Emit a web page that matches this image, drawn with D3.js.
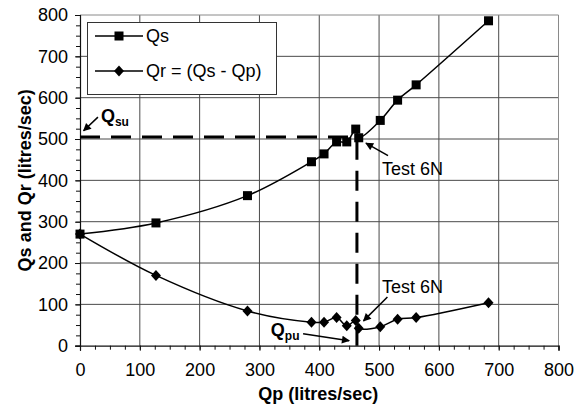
<!DOCTYPE html>
<html>
<head>
<meta charset="utf-8">
<script src="https://cdn.jsdelivr.net/npm/d3@7"></script>
<style>
  html, body { margin: 0; padding: 0; background: #fff; }
  svg { display: block; font-family: "Liberation Sans", Arial, Helvetica, sans-serif; }
</style>
</head>
<body>
<svg id="chart" width="585" height="407"></svg>
<script>
// Pump discharge Qp against supply Qs and return Qr (litres/sec)
const qp = [0, 127, 280, 387, 408, 429, 446, 461, 466, 502, 531, 562, 683];
const qs = [270, 297, 363, 445, 464, 493, 493, 524, 503, 545, 594, 631, 786];
const qr = [270, 170, 84, 57, 57, 68, 48, 61, 42, 46, 64, 68, 104];

const xTicks = [0, 100, 200, 300, 400, 500, 600, 700, 800];
const yTicks = [0, 100, 200, 300, 400, 500, 600, 700, 800];
const minorStep = 25;

// Upper-limit markers: Qsu on the supply axis, Qpu on the pump axis
const qsu = 505;
const qpu = 463;

const seriesNames = ["Qs", "Qr = (Qs - Qp)"];

const W = 585, H = 407;
const plot = { left: 80, right: 558.5, top: 15, bottom: 345.7 };
const fontSize = 18;

const svg = d3.select("#chart");
const x = d3.scaleLinear().domain([0, 800]).range([plot.left, plot.right]);
const y = d3.scaleLinear().domain([0, 800]).range([plot.bottom, plot.top]);

svg.append("rect").attr("width", W).attr("height", H).attr("fill", "#fff");

// Grid
const grid = svg.append("g").attr("stroke", "#4a4a4a").attr("stroke-width", 1);
xTicks.slice(1, -1).forEach(v => {
  grid.append("line").attr("x1", x(v)).attr("x2", x(v))
    .attr("y1", plot.top).attr("y2", plot.bottom);
});
yTicks.slice(1, -1).forEach(v => {
  grid.append("line").attr("y1", y(v)).attr("y2", y(v))
    .attr("x1", plot.left).attr("x2", plot.right);
});
// Frame: top and right edges lighter
svg.append("line").attr("x1", plot.left).attr("x2", plot.right)
  .attr("y1", plot.top).attr("y2", plot.top).attr("stroke", "#8a8a8a");
svg.append("line").attr("x1", plot.right).attr("x2", plot.right)
  .attr("y1", plot.top).attr("y2", plot.bottom).attr("stroke", "#8a8a8a");

// Axes
const minorVals = d3.range(0, 801, minorStep);
const xMinor = svg.append("g").attr("transform", `translate(0,${plot.bottom})`)
  .call(d3.axisBottom(x).tickValues(minorVals).tickSize(4).tickFormat(""));
const yMinor = svg.append("g").attr("transform", `translate(${plot.left},0)`)
  .call(d3.axisLeft(y).tickValues(minorVals).tickSize(4).tickFormat(""));
[xMinor, yMinor].forEach(g => g.select(".domain").remove());

const xAxis = svg.append("g").attr("transform", `translate(0,${plot.bottom})`)
  .call(d3.axisBottom(x).tickValues(xTicks).tickSize(5).tickPadding(13).tickFormat(d3.format("d")));
const yAxis = svg.append("g").attr("transform", `translate(${plot.left},0)`)
  .call(d3.axisLeft(y).tickValues(yTicks).tickSize(5).tickPadding(7).tickFormat(d3.format("d")));
[xAxis, yAxis, xMinor, yMinor].forEach(g => {
  g.selectAll("line").attr("stroke", "#111");
  g.select(".domain").attr("stroke", "#111").attr("stroke-width", 1.2);
  g.selectAll("text").attr("font-size", fontSize).attr("fill", "#000")
    .attr("font-family", "\"Liberation Sans\", Arial, sans-serif");
});

// Axis titles
svg.append("text").attr("x", (plot.left + plot.right) / 2 - 1).attr("y", 400)
  .attr("text-anchor", "middle").attr("font-size", 18).attr("font-weight", "bold")
  .attr("fill", "#000").text("Qp (litres/sec)");
svg.append("text").attr("transform", `translate(31,${(plot.top + plot.bottom) / 2}) rotate(-90)`)
  .attr("text-anchor", "middle").attr("font-size", 18).attr("font-weight", "bold")
  .attr("fill", "#000").text("Qs and Qr (litres/sec)");

// Dashed limit lines
const dashG = svg.append("g").attr("stroke", "#000").attr("stroke-width", 3)
  .attr("stroke-dasharray", "20,11").attr("fill", "none");
dashG.append("line").attr("x1", x(0)).attr("x2", x(qpu))
  .attr("y1", y(qsu)).attr("y2", y(qsu));
dashG.append("line").attr("x1", x(qpu)).attr("x2", x(qpu))
  .attr("y1", y(0)).attr("y2", y(qsu));

// Series
const smooth = d3.curveCatmullRom.alpha(0.5);
const ptsQs = qp.map((v, i) => [v, qs[i]]);
const ptsQr = qp.map((v, i) => [v, qr[i]]);
const lineGen = d3.line().x(d => x(d[0])).y(d => y(d[1])).curve(smooth);

svg.append("path").datum(ptsQs).attr("d", lineGen)
  .attr("fill", "none").attr("stroke", "#000").attr("stroke-width", 1.5);
svg.append("path").datum(ptsQr).attr("d", lineGen)
  .attr("fill", "none").attr("stroke", "#000").attr("stroke-width", 1.5);

const sq = 9;
const diamond = (cx, cy) => `M${cx},${cy - 5.5}L${cx + 5},${cy}L${cx},${cy + 5.5}L${cx - 5},${cy}Z`;

svg.append("g").selectAll("rect").data(ptsQs).join("rect")
  .attr("x", d => x(d[0]) - sq / 2).attr("y", d => y(d[1]) - sq / 2)
  .attr("width", sq).attr("height", sq).attr("fill", "#000");
svg.append("g").selectAll("path").data(ptsQr).join("path")
  .attr("d", d => diamond(x(d[0]), y(d[1]))).attr("fill", "#000");

// Annotations with arrows
const defs = svg.append("defs");
defs.append("marker").attr("id", "head").attr("viewBox", "0 0 10 10")
  .attr("refX", 9).attr("refY", 5).attr("markerWidth", 10).attr("markerHeight", 8)
  .attr("markerUnits", "userSpaceOnUse").attr("orient", "auto")
  .append("path").attr("d", "M0,0L10,5L0,10Z").attr("fill", "#000");

function arrow(x1, y1, x2, y2) {
  svg.append("line").attr("x1", x(x1)).attr("y1", y(y1)).attr("x2", x(x2)).attr("y2", y(y2))
    .attr("stroke", "#000").attr("stroke-width", 1.5).attr("marker-end", "url(#head)");
}
function label(px, py, main, sub) {
  const t = svg.append("text").attr("x", x(px)).attr("y", y(py)).attr("fill", "#000");
  if (sub) {
    t.attr("font-weight", "bold").attr("font-size", 18);
    t.append("tspan").text(main);
    t.append("tspan").attr("font-size", 12).attr("dy", 4).text(sub);
  } else {
    t.attr("font-size", fontSize).text(main);
  }
}

label(35, 541, "Q", "su");
arrow(30, 553, 6, 520);

label(505, 413, "Test 6N");
arrow(515, 460, 478, 490);

label(505, 127, "Test 6N");
arrow(514, 118, 474, 60);

label(319, 24, "Q", "pu");
arrow(373, 29, 450, 12);

// Legend
const lg = svg.append("g");
lg.append("rect").attr("x", 87.5).attr("y", 22.5).attr("width", 189).attr("height", 72)
  .attr("fill", "#fff").attr("stroke", "#333").attr("stroke-width", 1);
const legendRows = [{ y: 36, kind: "square" }, { y: 71, kind: "diamond" }];
legendRows.forEach((r, i) => {
  lg.append("line").attr("x1", 95).attr("x2", 143).attr("y1", r.y).attr("y2", r.y)
    .attr("stroke", "#000").attr("stroke-width", 1.5);
  if (r.kind === "square") {
    lg.append("rect").attr("x", 119 - sq / 2).attr("y", r.y - sq / 2)
      .attr("width", sq).attr("height", sq).attr("fill", "#000");
  } else {
    lg.append("path").attr("d", diamond(119, r.y)).attr("fill", "#000");
  }
  lg.append("text").attr("x", 146).attr("y", r.y + 6).attr("font-size", fontSize)
    .attr("fill", "#000").text(seriesNames[i]);
});
</script>
</body>
</html>
